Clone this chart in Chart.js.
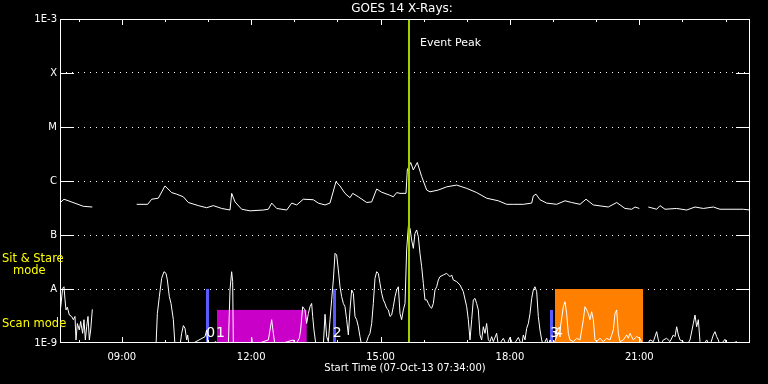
<!DOCTYPE html>
<html>
<head>
<meta charset="utf-8">
<script src="https://cdn.jsdelivr.net/npm/chart.js@4.4.1/dist/chart.umd.min.js"></script>
<style>
  html, body { margin: 0; padding: 0; background: #000; }
  #wrap { width: 768px; height: 384px; }
</style>
</head>
<body>
<div id="wrap"><canvas id="c" width="768" height="384"></canvas></div>
<script>
// ---- Data (time in decimal hours of 07-Oct-13, flux in W/m^2) ----
const longTime = [
  7.590, 7.659, 7.868, 8.107, 8.316, 8.800, 9.345, 9.600, 9.693, 9.846,
  10.001, 10.157, 10.273, 10.426, 10.542, 10.774, 10.968, 11.122, 11.316, 11.509,
  11.548, 11.625, 11.780, 11.973, 12.281, 12.397, 12.476, 12.592, 12.824, 12.940,
  13.056, 13.208, 13.440, 13.556, 13.711, 13.827, 13.966, 14.059, 14.175, 14.291,
  14.354, 14.484, 14.678, 14.794, 14.910, 15.026, 15.203, 15.295, 15.374, 15.451,
  15.590, 15.620, 15.699, 15.759, 15.852, 15.954, 16.070, 16.147, 16.339, 16.534,
  16.765, 16.998, 17.229, 17.461, 17.730, 17.925, 18.078, 18.310, 18.505, 18.542,
  18.604, 18.697, 18.852, 19.084, 19.277, 19.432, 19.625, 19.764, 19.933, 20.281,
  20.476, 20.668, 20.824, 20.900, 21.000, 21.100, 21.209, 21.403, 21.480, 21.596,
  21.867, 22.099, 22.291, 22.484, 22.716, 22.871, 23.103, 23.412, 23.567
];
const longFlux = [
  4.1e-7, 4.6e-7, 4.0e-7, 3.4e-7, 3.3e-7, null, 3.7e-7, 3.7e-7, 4.6e-7, 4.8e-7,
  8.1e-7, 6.1e-7, 5.7e-7, 5.1e-7, 4.0e-7, 3.5e-7, 3.2e-7, 3.5e-7, 3.1e-7, 2.9e-7,
  5.9e-7, 4.1e-7, 3.0e-7, 2.8e-7, 2.9e-7, 3.0e-7, 3.9e-7, 3.1e-7, 2.9e-7, 3.9e-7,
  3.6e-7, 4.6e-7, 4.5e-7, 3.9e-7, 3.6e-7, 3.9e-7, 9.7e-7, 8.1e-7, 5.9e-7, 4.9e-7,
  5.9e-7, 5.1e-7, 4.0e-7, 4.1e-7, 7.1e-7, 6.2e-7, 5.5e-7, 5.1e-7, 6.1e-7, 5.9e-7,
  5.9e-7, 1.6e-6, 2.2e-6, 1.6e-6, 2.2e-6, 1.2e-6, 6.8e-7, 6.3e-7, 6.8e-7, 7.8e-7,
  8.4e-7, 7.3e-7, 6.1e-7, 4.8e-7, 4.3e-7, 3.7e-7, 3.7e-7, 3.7e-7, 3.9e-7, 5.3e-7,
  5.7e-7, 4.5e-7, 3.9e-7, 3.7e-7, 4.3e-7, 4.0e-7, 3.7e-7, 4.6e-7, 3.6e-7, 3.3e-7,
  4.0e-7, 3.1e-7, 3.0e-7, 3.3e-7, 3.1e-7, null, 3.3e-7, 3.0e-7, 3.5e-7, 3.0e-7,
  3.1e-7, 2.9e-7, 3.3e-7, 3.1e-7, 3.3e-7, 3.0e-7, 3.0e-7, 3.0e-7, 2.9e-7
];
const shortTime = [
  7.567, 7.628, 7.659, 7.683, 7.706, 7.737, 7.783, 7.837, 7.876, 7.914,
  7.938, 7.969, 8.015, 8.046, 8.092, 8.123, 8.154, 8.185, 8.216, 8.247,
  8.278, 8.316, 8.800, 9.345, 9.793, 9.824, 9.870, 9.924, 9.978, 10.025,
  10.056, 10.102, 10.141, 10.195, 10.233, 10.349, 10.388, 10.427, 10.465, 10.504,
  10.527, 10.558, 10.929, 10.968, 11.000, 11.184, 11.238, 11.470, 11.509, 11.547,
  11.571, 11.586, 12.000, 12.011, 12.030, 12.398, 12.436, 12.475, 12.514, 12.552,
  12.977, 13.016, 13.116, 13.147, 13.194, 13.248, 13.286, 13.325, 13.364, 13.402,
  13.426, 13.456, 13.503, 13.673, 13.712, 13.750, 13.789, 13.828, 13.866, 13.905,
  13.944, 13.982, 14.021, 14.060, 14.098, 14.137, 14.175, 14.214, 14.253, 14.291,
  14.330, 14.369, 14.407, 14.446, 14.485, 14.523, 14.562, 14.678, 14.716, 14.755,
  14.794, 14.832, 14.871, 14.910, 14.948, 14.987, 15.026, 15.064, 15.103, 15.141,
  15.180, 15.219, 15.257, 15.296, 15.335, 15.373, 15.412, 15.451, 15.489, 15.528,
  15.567, 15.605, 15.644, 15.683, 15.721, 15.760, 15.798, 15.837, 15.876, 15.914,
  15.953, 15.992, 16.030, 16.069, 16.108, 16.146, 16.185, 16.224, 16.262, 16.301,
  16.340, 16.378, 16.455, 16.533, 16.610, 16.649, 16.687, 16.765, 16.842, 16.919,
  16.997, 17.035, 17.074, 17.113, 17.151, 17.190, 17.228, 17.267, 17.306, 17.344,
  17.383, 17.422, 17.460, 17.499, 17.538, 17.576, 17.615, 17.692, 17.731, 17.847,
  17.924, 18.001, 18.079, 18.195, 18.272, 18.311, 18.349, 18.388, 18.427, 18.465,
  18.504, 18.542, 18.581, 18.620, 18.658, 18.697, 18.736, 18.774, 18.852, 18.890,
  18.929, 19.000, 19.083, 19.161, 19.238, 19.277, 19.315, 19.354, 19.393, 19.470,
  19.547, 19.625, 19.702, 19.740, 19.779, 19.818, 19.856, 19.895, 19.934, 19.972,
  20.011, 20.088, 20.166, 20.243, 20.320, 20.398, 20.436, 20.475, 20.513, 20.552,
  20.629, 20.707, 20.745, 20.784, 20.861, 20.939, 21.016, 21.078, 21.170, 21.248,
  21.325, 21.402, 21.441, 21.480, 21.557, 21.634, 21.712, 21.789, 21.828, 21.866,
  21.905, 21.944, 22.021, 22.098, 22.175, 22.253, 22.291, 22.330, 22.369, 22.407,
  22.485, 22.562, 22.639, 22.716, 22.755, 22.794, 22.832, 22.871, 22.987, 23.026,
  23.257, 23.300, 23.567
];
const shortFlux = [
  3.5e-9, 1.03e-8, 1.10e-8, 6.3e-9, 4.1e-9, 4.6e-9, 3.3e-9, 3.1e-9, 2.7e-9, 3.1e-9,
  1.14e-9, 2.3e-9, 1.74e-9, 2.5e-9, 1.51e-9, 2.7e-9, 1.14e-9, 2.0e-9, 3.1e-9, 1.14e-9,
  1.74e-9, 4.2e-9, null, 9e-10, 9e-10, 3.5e-9, 7.2e-9, 1.58e-8, 2.09e-8, 1.95e-8,
  1.47e-8, 7.2e-9, 5.4e-9, 2.7e-9, 9e-10, 9e-10, 1.51e-9, 2.1e-9, 1.87e-9, 1.14e-9,
  1.41e-9, 9e-10, 1.31e-9, 1.74e-9, 9e-10, 1.06e-9, 9e-10, 9e-10, 9.6e-9, 2.09e-8,
  1.37e-8, 9e-10, 9e-10, 1.27e-9, 9e-10, 1.14e-9, 1.74e-9, 2.7e-9, 1.51e-9, 9e-10,
  1.14e-9, 9e-10, 1.22e-9, 1.74e-9, 4.7e-9, 4.1e-9, 2.3e-9, 3.5e-9, 4.7e-9, 5.4e-9,
  3.1e-9, 1.74e-9, 9e-10, 9e-10, 3.4e-9, 1.31e-9, 1.06e-9, 2.7e-9, 6.3e-9, 1.47e-8,
  4.58e-8, 4.26e-8, 2.25e-8, 1.10e-8, 7.2e-9, 5.4e-9, 4.7e-9, 2.7e-9, 1.41e-9, 4.1e-9,
  9.6e-9, 8.3e-9, 3.1e-9, 2.7e-9, 2.0e-9, 1.31e-9, 9e-10, 1.06e-9, 1.31e-9, 1.51e-9,
  2.3e-9, 5.4e-9, 1.58e-8, 2.09e-8, 1.95e-8, 1.27e-8, 8.3e-9, 6.3e-9, 5.4e-9, 4.4e-9,
  4.1e-9, 3.1e-9, 3.3e-9, 4.7e-9, 7.2e-9, 9.6e-9, 1.10e-8, 3.5e-9, 2.7e-9, 4.1e-9,
  5.4e-9, 5.28e-8, 1.43e-7, 1.33e-7, 8.08e-8, 5.66e-8, 1.07e-7, 1.24e-7, 9.3e-8, 4.58e-8,
  2.59e-8, 1.27e-8, 6.3e-9, 6.3e-9, 5.4e-9, 4.7e-9, 4.4e-9, 5.4e-9, 9.6e-9, 1.10e-8,
  1.47e-8, 1.69e-8, 1.82e-8, 1.95e-8, 1.69e-8, 1.82e-8, 1.47e-8, 1.37e-8, 1.19e-8, 8.9e-9,
  4.7e-9, 2.7e-9, 1.14e-9, 2.7e-9, 6.3e-9, 6.7e-9, 5.4e-9, 4.1e-9, 1.41e-9, 1.14e-9,
  2.0e-9, 1.51e-9, 2.3e-9, 1.14e-9, 1.06e-9, 1.31e-9, 1.06e-9, 1.51e-9, 9e-10, 1.22e-9,
  9e-10, 1.27e-9, 9e-10, 1.27e-9, 9e-10, 1.41e-9, 1.14e-9, 1.87e-9, 2.3e-9, 3.5e-9,
  6.7e-9, 9.6e-9, 1.10e-8, 8.9e-9, 3.1e-9, 1.74e-9, 1.14e-9, 9e-10, 1.22e-9, 9e-10,
  1.14e-9, 9e-10, 1.31e-9, 1.74e-9, 4.7e-9, 5.8e-9, 3.5e-9, 1.51e-9, 1.14e-9, 1.06e-9,
  1.22e-9, 1.14e-9, 2.7e-9, 4.7e-9, 4.1e-9, 3.5e-9, 2.7e-9, 3.8e-9, 2.7e-9, 1.14e-9,
  1.06e-9, 1.22e-9, 1.06e-9, 1.22e-9, 1.14e-9, 1.74e-9, 3.5e-9, 4.1e-9, 1.51e-9, 1.06e-9,
  1.14e-9, 1.41e-9, 1.22e-9, 1.51e-9, 1.14e-9, 1.31e-9, 1.22e-9, 9e-10, 9e-10, 1.14e-9,
  1.06e-9, 1.62e-9, 1.14e-9, 9e-10, 1.14e-9, 1.22e-9, 1.06e-9, 1.41e-9, 1.31e-9, 2.0e-9,
  1.41e-9, 1.14e-9, 1.06e-9, 9e-10, 1.14e-9, 2.3e-9, 3.3e-9, 2.0e-9, 2.7e-9, 1.06e-9,
  9e-10, 1.14e-9, 9e-10, 1.41e-9, 1.62e-9, 1.31e-9, 1.14e-9, 9e-10, 1.17e-9, 9e-10,
  1.06e-9, 9e-10, 9e-10
];

// Observation mode boxes (start hour, end hour, top flux)
const boxStart = [11.207, 19.045];
const boxEnd   = [13.287, 21.086];
const boxTop   = [4.1e-9, 1.0e-8];
// Pointing change markers
const markerTime = [10.982, 13.913, 18.959];
const markerTop  = [1.0e-8, 1.0e-8, 4.1e-9];
// Numbered labels
const labelTime = [10.982, 11.207, 13.913, 18.959, 19.045];
const labelText = ['0', '1', '2', '3', '4'];
// Event peak
const peakTime = 15.660;

// Axis ticks
const xStart = 7 + 34 / 60;
const xEnd = xStart + 16;
const xMajorHours = [9, 12, 15, 18, 21];
const xMinorHours = [8, 10, 11, 13, 14, 16, 17, 19, 20, 22, 23];
const yTickValues = [1e-9, 1e-8, 1e-7, 1e-6, 1e-5, 1e-4, 1e-3];
const yTickLabels = ['1E-9', 'A', 'B', 'C', 'M', 'X', '1E-3'];

// ---- styles ----
const FONT = 'DejaVu Sans';
const boxColors = ['#c800c8', '#ff8000'];
const markerColor = '#5a5aff';
const peakColor = '#a0d000';

function pts(t, f) { return t.map((x, i) => ({ x: x, y: f[i] })); }

const overlay = {
  id: 'overlay',
  beforeDatasetsDraw(chart) {
    const { ctx, scales: { x, y }, chartArea: a } = chart;
    ctx.save();
    ctx.beginPath();
    ctx.rect(a.left, a.top, a.right - a.left, a.bottom - a.top);
    ctx.clip();
    for (let i = 0; i < boxStart.length; i++) {
      const x0 = x.getPixelForValue(boxStart[i]);
      const x1 = x.getPixelForValue(boxEnd[i]);
      const y0 = y.getPixelForValue(boxTop[i]);
      ctx.fillStyle = boxColors[i];
      ctx.fillRect(x0, y0, x1 - x0, a.bottom - y0);
    }
    for (let i = 0; i < markerTime.length; i++) {
      const xm = x.getPixelForValue(markerTime[i]);
      const y0 = y.getPixelForValue(markerTop[i]);
      ctx.fillStyle = markerColor;
      ctx.fillRect(Math.round(xm) - 1, y0, 3, a.bottom - y0);
    }
    ctx.restore();
  },
  afterDatasetsDraw(chart) {
    const { ctx, scales: { x, y }, chartArea: a } = chart;
    ctx.save();
    // event peak line
    const xp = Math.round(x.getPixelForValue(peakTime));
    ctx.fillStyle = peakColor;
    ctx.fillRect(xp - 1, a.top, 2, a.bottom - a.top);
    // frame
    ctx.strokeStyle = '#fff';
    ctx.lineWidth = 1;
    ctx.strokeRect(Math.round(a.left) + 0.5, Math.round(a.top) + 0.5,
      Math.round(a.right - a.left) - 1, Math.round(a.bottom - a.top) - 1);
    // y major ticks (solid) at both sides
    ctx.beginPath();
    for (let i = 1; i < yTickValues.length - 1; i++) {
      const yy = Math.round(y.getPixelForValue(yTickValues[i])) + 0.5;
      ctx.moveTo(a.left, yy); ctx.lineTo(a.left + 14, yy);
      ctx.moveTo(a.right - 14, yy); ctx.lineTo(a.right, yy);
    }
    // x ticks, inward at top and bottom
    const tick = (h, len) => {
      const xx = Math.round(x.getPixelForValue(h)) + 0.5;
      ctx.moveTo(xx, a.top); ctx.lineTo(xx, a.top + len);
      ctx.moveTo(xx, a.bottom); ctx.lineTo(xx, a.bottom - len);
    };
    xMajorHours.forEach(h => tick(h, 6));
    xMinorHours.forEach(h => tick(h, 3));
    ctx.stroke();

    // numbered labels
    ctx.fillStyle = '#fff';
    ctx.font = '14px "' + FONT + '"';
    ctx.textAlign = 'left';
    ctx.textBaseline = 'middle';
    for (let i = 0; i < labelTime.length; i++) {
      ctx.fillText(labelText[i], x.getPixelForValue(labelTime[i]) - 1, 333);
    }
    // Event Peak
    ctx.font = '11px "' + FONT + '"';
    ctx.fillText('Event Peak', xp + 11, 43);
    // Title
    ctx.font = '12px "' + FONT + '"';
    ctx.textAlign = 'center';
    ctx.fillText('GOES 14 X-Rays:', 402, 9);
    // mode labels
    ctx.fillStyle = '#ffff00';
    ctx.textAlign = 'left';
    ctx.font = '11.5px "' + FONT + '"';
    ctx.fillText('Sit & Stare', 2, 259);
    ctx.fillText('mode', 13, 271);
    ctx.fillText('Scan mode', 2, 324);
    ctx.restore();
  }
};

new Chart(document.getElementById('c'), {
  type: 'line',
  data: {
    datasets: [
      { label: 'Long', data: pts(longTime, longFlux), borderColor: '#fff', borderWidth: 1,
        pointRadius: 0, tension: 0, spanGaps: false },
      { label: 'Short', data: pts(shortTime, shortFlux), borderColor: '#fff', borderWidth: 1,
        pointRadius: 0, tension: 0, spanGaps: false }
    ]
  },
  options: {
    responsive: false,
    animation: false,
    events: [],
    layout: { padding: { top: 19, right: 18, left: 0, bottom: 0 } },
    plugins: { legend: { display: false }, tooltip: { enabled: false }, title: { display: false } },
    scales: {
      x: {
        type: 'linear', min: xStart, max: xEnd,
        afterFit(s) { s.height = 41; },
        afterBuildTicks(s) { s.ticks = xMajorHours.map(v => ({ value: v })); },
        grid: { display: false },
        border: { display: false },
        ticks: {
          autoSkip: false, maxRotation: 0, padding: 0, color: '#fff',
          font: { family: FONT, size: 10 },
          callback: v => String(v).padStart(2, '0') + ':00'
        },
        title: {
          display: true, text: 'Start Time (07-Oct-13 07:34:00)', color: '#fff',
          font: { family: FONT, size: 10 }, padding: { top: 0, bottom: 10 }
        }
      },
      y: {
        type: 'logarithmic', min: 1e-9, max: 1e-3,
        afterFit(s) { s.width = 60; },
        afterBuildTicks(s) { s.ticks = yTickValues.map(v => ({ value: v })); },
        grid: {
          drawTicks: false, lineWidth: 1,
          color: c => (c.index === 0 || c.index === yTickValues.length - 1) ? 'rgba(0,0,0,0)' : '#fff'
        },
        border: { display: false, dash: [1, 5] },
        ticks: {
          autoSkip: false, padding: 3, color: '#fff',
          font: { family: FONT, size: 10 },
          callback: (v, i) => yTickLabels[i]
        }
      }
    }
  },
  plugins: [overlay]
});
</script>
</body>
</html>
